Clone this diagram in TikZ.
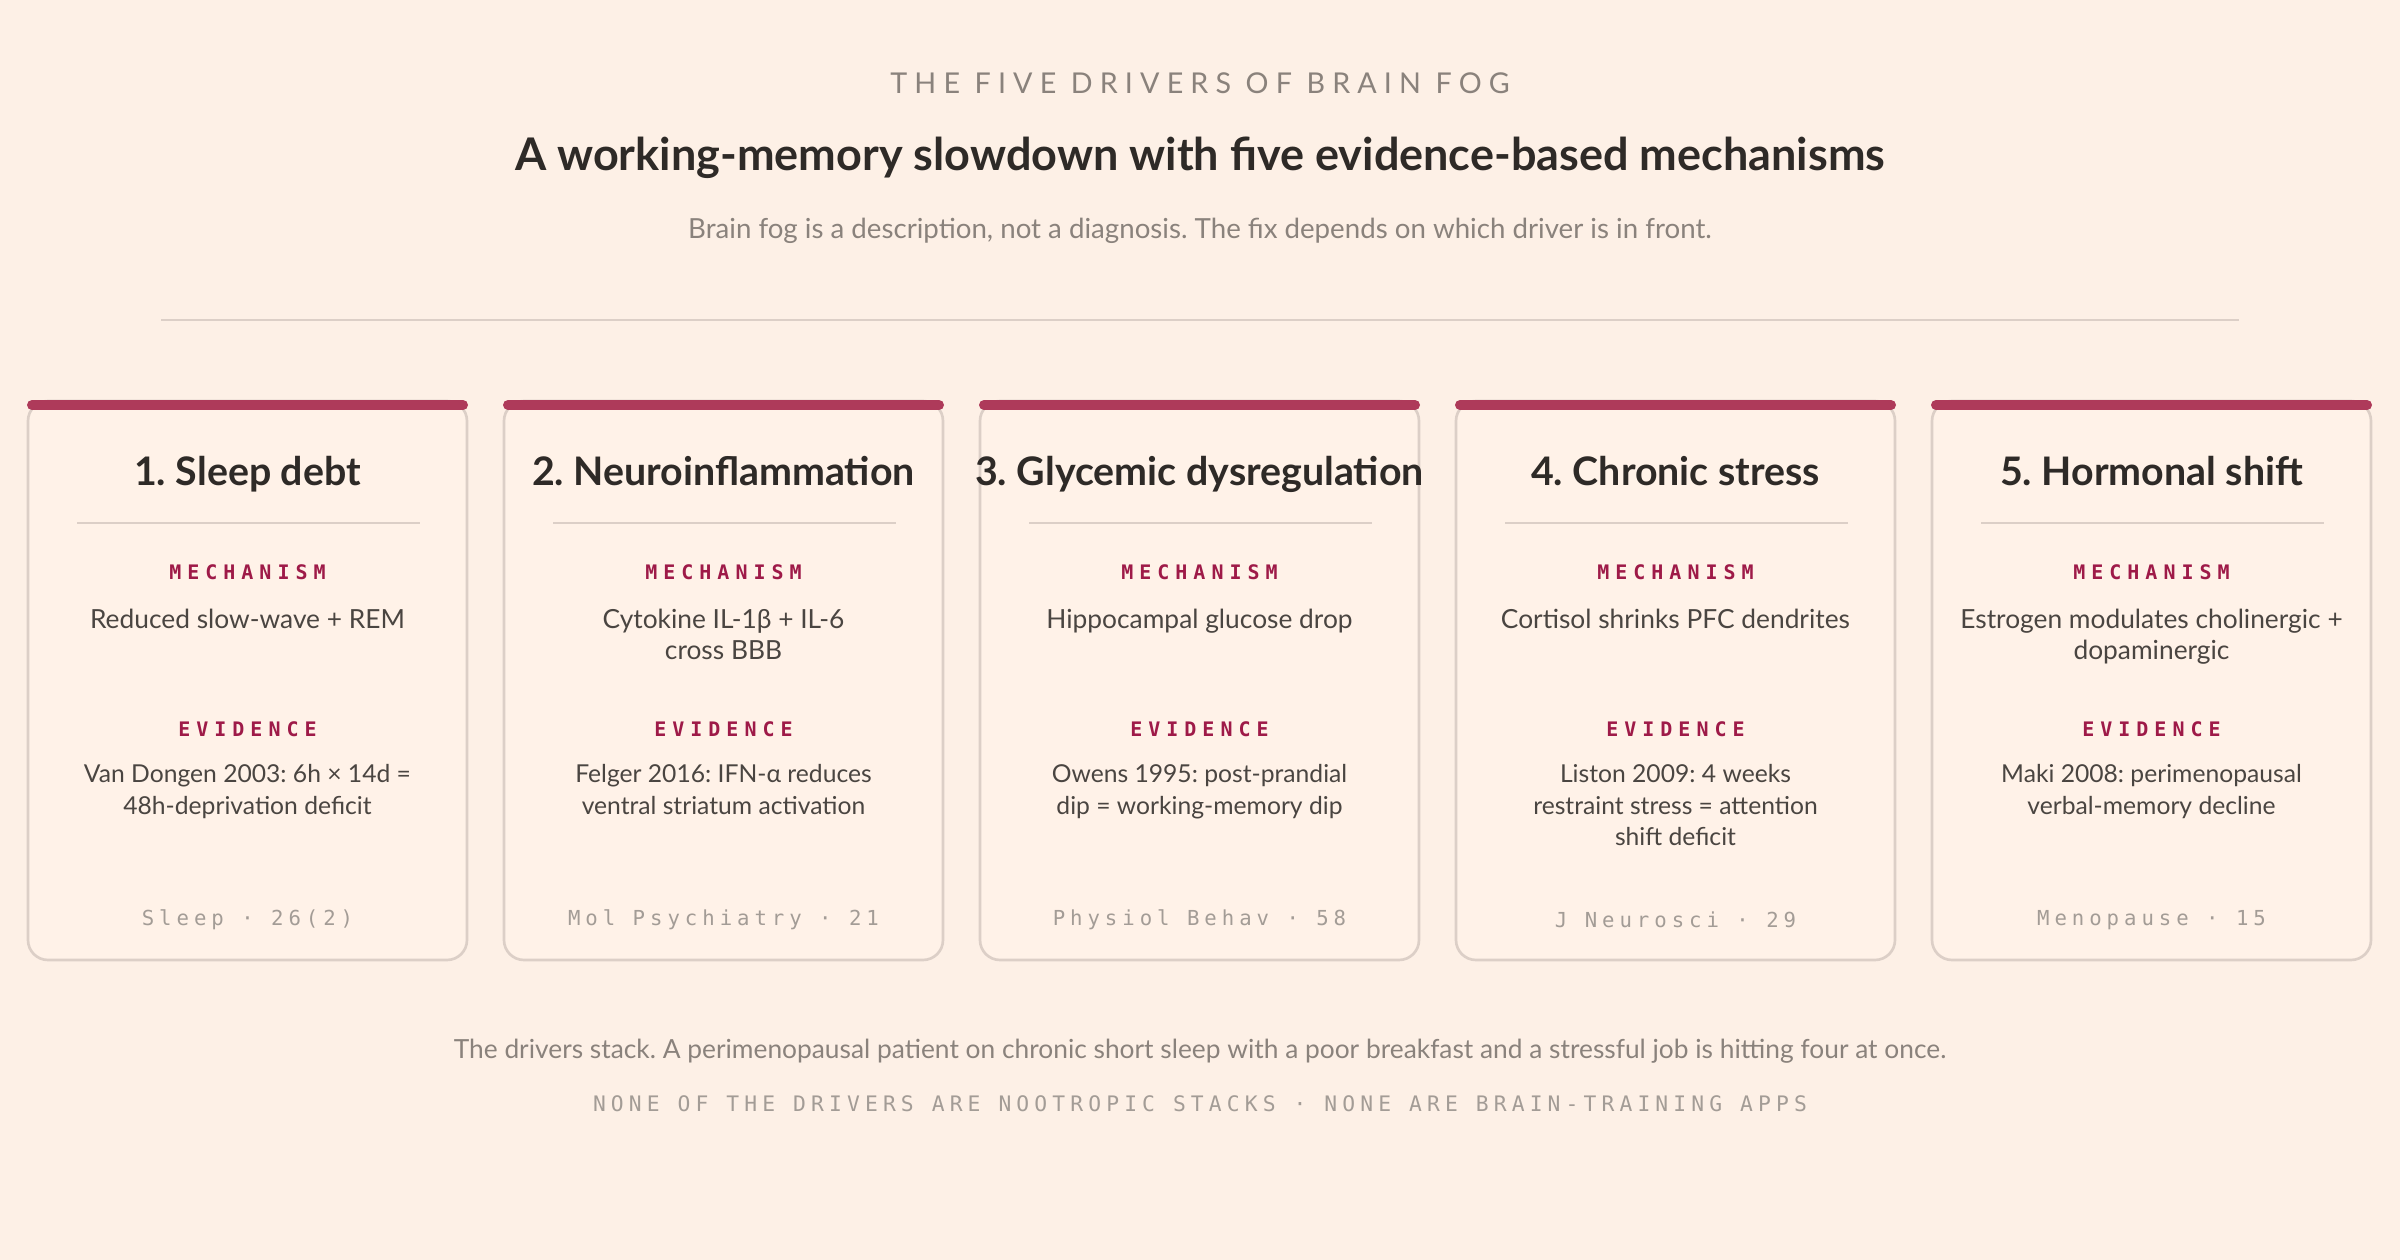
\documentclass[tikz,border=0pt]{standalone}
\usepackage{fontspec}
\setmainfont{Lato}
\newfontfamily\monof[LetterSpace=24]{DejaVu Sans Mono}
\newfontfamily\monobold[LetterSpace=30]{DejaVu Sans Mono Bold}
\newfontfamily\capsf[LetterSpace=25]{Lato}
\frenchspacing
\definecolor{bg}{HTML}{FDF0E6}
\definecolor{cardbg}{HTML}{FFF2E8}
\definecolor{cardedge}{HTML}{DCCFC7}
\definecolor{bar}{HTML}{AE3A5A}
\definecolor{lab}{HTML}{9E1A48}
\definecolor{ink}{HTML}{2E2A27}
\definecolor{body}{HTML}{4A4541}
\definecolor{muted}{HTML}{8A827C}
\definecolor{mono}{HTML}{A39C96}
\tikzset{
 card/.style={draw=cardedge,fill=cardbg,line width=0.8pt,rounded corners=6pt},
 topbar/.style={draw=bar,line width=3pt,line cap=round},
 ctitle/.style={font=\fontsize{11.8}{14}\selectfont\bfseries,text=ink,anchor=base},
 clabel/.style={font=\fontsize{6}{7}\monobold,text=lab},
 cbody/.style={font=\fontsize{7.9}{9.4}\selectfont,text=body,align=center},
 cev/.style={font=\fontsize{7.4}{9.4}\selectfont,text=body,align=center},
 cfoot/.style={font=\fontsize{6.2}{7}\monof,text=mono},
 rule/.style={draw=cardedge,line width=0.5pt}
}
\begin{document}
\begin{tikzpicture}[x=0.3pt,y=-0.3pt]
\fill[bg] (0,0) rectangle (2400,1260);
\useasboundingbox (0,0) rectangle (2400,1260);
\node[font=\fontsize{8.6}{10}\capsf,text=muted] (kicker) at (1200,83) {THE FIVE DRIVERS OF BRAIN FOG};
\node[font=\fontsize{13.5}{15}\selectfont\bfseries,text=ink] (head) at (1200,158) {A working-memory slowdown with five evidence-based mechanisms};
\node[font=\fontsize{8.3}{10}\selectfont,text=muted] (sub) at (1200,231) {Brain fog is a description, not a diagnosis. The fix depends on which driver is in front.};
\coordinate (dl) at (161,320); \coordinate (dr) at (2239,320);
\draw[rule] (dl) -- (dr);
\foreach \i/\t/\m/\e/\f in {
 0/{1. Sleep debt}/{Reduced slow-wave + REM}/{Van Dongen 2003: 6h × 14d =\\48h-deprivation deficit}/{Sleep · 26(2)},
 1/{2. Neuroinflammation}/{Cytokine IL-1β + IL-6\\cross BBB}/{Felger 2016: IFN-α reduces\\ventral striatum activation}/{Mol Psychiatry · 21},
 2/{3. Glycemic dysregulation}/{Hippocampal glucose drop}/{Owens 1995: post-prandial\\dip = working-memory dip}/{Physiol Behav · 58},
 3/{4. Chronic stress}/{Cortisol shrinks PFC dendrites}/{Liston 2009: 4 weeks\\restraint stress = attention\\shift deficit}/{J Neurosci · 29},
 4/{5. Hormonal shift}/{Estrogen modulates cholinergic +\\dopaminergic}/{Maki 2008: perimenopausal\\verbal-memory decline}/{Menopause · 15}}{
 \pgfmathsetmacro\xl{28+476*\i}
 \pgfmathsetmacro\xc{\xl+219.5}
 \draw[card] (\xl,401) rectangle (\xl+439,960);
 \draw[topbar] (\xl+4,405) -- (\xl+435,405);
 \node[ctitle] (t\i) at (\xc,486) {\t};
 \draw[rule] (\xl+49,523) -- (\xl+392,523);
 \node[clabel] (ml\i) at (\xc,572) {MECHANISM};
 \node[cbody,anchor=north] (m\i) at (\xc,597) {\m};
 \node[clabel] (el\i) at (\xc,729) {EVIDENCE};
 \node[cev,anchor=north] (e\i) at (\xc,753) {\e};
 \node[cfoot] (f\i) at (\xc,920) {\f};
}
\node[font=\fontsize{7.9}{9}\selectfont,text=muted] (note) at (1200,1051) {The drivers stack. A perimenopausal patient on chronic short sleep with a poor breakfast and a stressful job is hitting four at once.};
\node[font=\fontsize{6.4}{8}\monof,text=mono] (foot) at (1200,1104) {NONE OF THE DRIVERS ARE NOOTROPIC STACKS · NONE ARE BRAIN-TRAINING APPS};
\end{tikzpicture}
\end{document}
